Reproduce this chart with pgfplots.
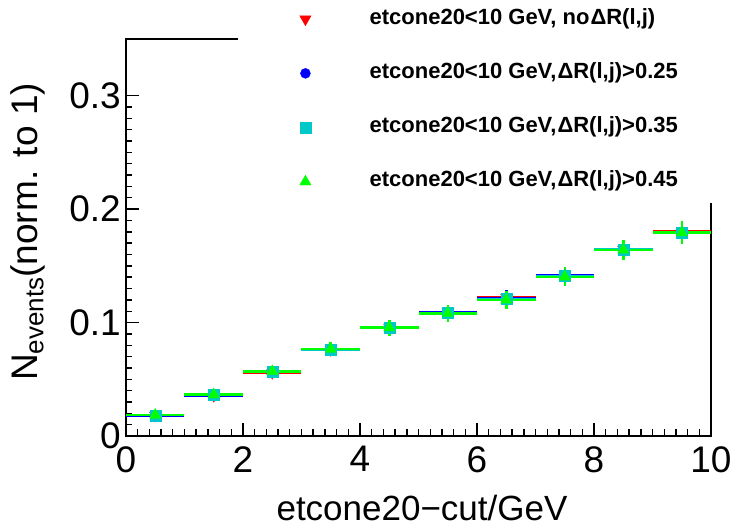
\documentclass[border=0pt]{standalone}
\usepackage{pgfplots}
\pgfplotsset{compat=1.18}
\usepackage{pgfplotstable}
\usepackage{fontspec}
\setmainfont{Liberation Sans}
\definecolor{rred}{RGB}{255,0,0}
\definecolor{rblue}{RGB}{0,0,255}
\definecolor{rcyan}{RGB}{0,200,200}
\definecolor{rgreen}{RGB}{0,255,0}

\pgfplotstableread{
x y ex ey
0.5 0.0180 0.5 0.0026
1.5 0.0355 0.5 0.0034
2.5 0.0558 0.5 0.0043
3.5 0.0760 0.5 0.0051
4.5 0.0958 0.5 0.0060
5.5 0.1092 0.5 0.0064
6.5 0.1222 0.5 0.0068
7.5 0.1415 0.5 0.0072
8.5 0.1645 0.5 0.0077
9.5 0.1805 0.5 0.0085
}\tred
\pgfplotstableread{
x y ex ey
0.5 0.0182 0.5 0.0026
1.5 0.0358 0.5 0.0034
2.5 0.0562 0.5 0.0043
3.5 0.0762 0.5 0.0051
4.5 0.0957 0.5 0.0060
5.5 0.1090 0.5 0.0064
6.5 0.1215 0.5 0.0068
7.5 0.1421 0.5 0.0072
8.5 0.1644 0.5 0.0077
9.5 0.1800 0.5 0.0085
}\tblue
\pgfplotstableread{
x y ex ey
0.5 0.0183 0.5 0.0028
1.5 0.0360 0.5 0.0036
2.5 0.0565 0.5 0.0046
3.5 0.0763 0.5 0.0055
4.5 0.0956 0.5 0.0064
5.5 0.1086 0.5 0.0068
6.5 0.1208 0.5 0.0073
7.5 0.1412 0.5 0.0077
8.5 0.1642 0.5 0.0083
9.5 0.1796 0.5 0.0090
}\tcyan
\pgfplotstableread{
x y ex ey
0.5 0.0185 0.5 0.0030
1.5 0.0364 0.5 0.0040
2.5 0.0569 0.5 0.0050
3.5 0.0765 0.5 0.0060
4.5 0.0955 0.5 0.0070
5.5 0.1080 0.5 0.0075
6.5 0.1200 0.5 0.0080
7.5 0.1403 0.5 0.0085
8.5 0.1640 0.5 0.0090
9.5 0.1792 0.5 0.0100
}\tgreen

\begin{document}
\begin{tikzpicture}
\begin{axis}[
  scale only axis,
  width=585pt, height=397pt,
  xmin=0, xmax=10, ymin=0, ymax=0.35,
  xtick={0,2,4,6,8,10},
  ytick={0,0.1,0.2,0.3},
  minor x tick num=9,
  minor y tick num=9,
  xtick pos=left, ytick pos=left,
  tick align=inside,
  major tick length=13pt, minor tick length=6.5pt,
  every tick/.style={black, line width=1.4pt},
  axis line style={line width=2pt},
  /pgf/number format/assume math mode=true,
  yticklabel style={/pgf/number format/fixed, inner sep=0pt, xshift=-5pt},
  xticklabel style={inner sep=0pt, yshift=-10pt},
  tick label style={font=\fontsize{37}{40}\selectfont},
  xlabel={etcone20\textminus cut/GeV},
  xlabel style={font=\fontsize{35}{38}\selectfont, at={(axis description cs:0.506,-0.214)}, anchor=base},
  ylabel={N\raisebox{-0.3ex}{\fontsize{26}{28}\selectfont events}(norm. to 1)},
  ylabel style={font=\fontsize{37}{40}\selectfont, at={(axis description cs:-0.1675,0.514)}, anchor=center, rotate=0},
  legend cell align=left,
  legend image code/.code={\path (-67pt,0pt) (64pt,0pt); \draw[#1] plot coordinates {(0pt,0pt)};},
  legend style={at={(rel axis cs:0.1915,0.587)}, anchor=south west, draw=none, fill=white,
    inner xsep=0pt, inner ysep=11pt, row sep=34.2pt,
    font=\bfseries\fontsize{22}{24}\selectfont,
    nodes={inner sep=0pt, text height=15pt, text depth=5pt}},
  error bars/error bar style={line width=2.5pt},
  error bars/error mark=none,
]
\addplot[only marks, color=rred, mark=triangle*, mark size=6.5pt, mark options={rotate=180, fill=rred, draw=rred},
  error bars/.cd, x dir=both, x explicit, y dir=both, y explicit]
  table[x=x, y=y, x error=ex, y error=ey] {\tred};
\addlegendentry{etcone20<10 GeV, no\kern1ptΔR(l,j)}
\addplot[only marks, color=rblue, mark=*, mark size=5pt, mark options={fill=rblue, draw=rblue},
  error bars/.cd, x dir=both, x explicit, y dir=both, y explicit]
  table[x=x, y=y, x error=ex, y error=ey] {\tblue};
\addlegendentry{etcone20<10 GeV,\kern1ptΔR(l,j)>0.25\hspace*{80pt}}
\addplot[only marks, color=rcyan, mark=square*, mark size=5.5pt, mark options={fill=rcyan, draw=rcyan},
  error bars/.cd, x dir=both, x explicit, y dir=both, y explicit]
  table[x=x, y=y, x error=ex, y error=ey] {\tcyan};
\addlegendentry{etcone20<10 GeV,\kern1ptΔR(l,j)>0.35}
\addplot[only marks, color=rgreen, mark=triangle*, mark size=6.5pt, mark options={fill=rgreen, draw=rgreen},
  error bars/.cd, x dir=both, x explicit, y dir=both, y explicit]
  table[x=x, y=y, x error=ex, y error=ey] {\tgreen};
\addlegendentry{etcone20<10 GeV,\kern1ptΔR(l,j)>0.45}
\end{axis}
\pgfresetboundingbox
\path[use as bounding box] (-126pt,-93pt) rectangle (605pt,436pt);
\end{tikzpicture}
\end{document}
